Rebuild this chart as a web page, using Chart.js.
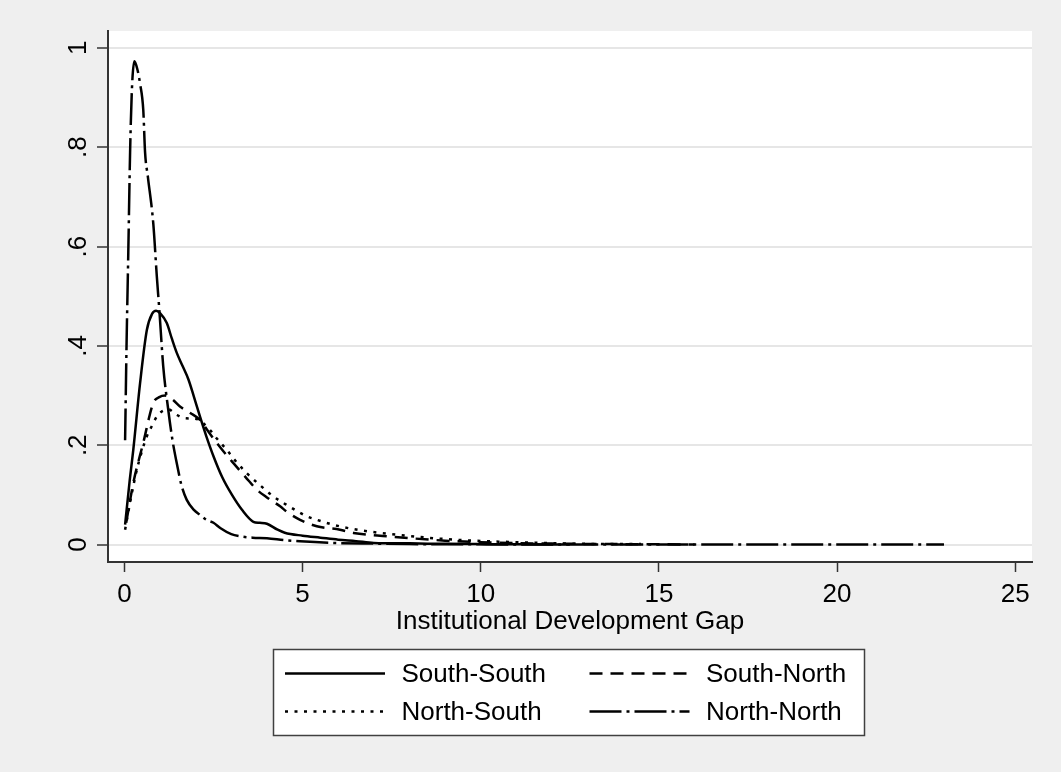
<!DOCTYPE html>
<html>
<head>
<meta charset="utf-8">
<title>Institutional Development Gap</title>
<script src="https://cdn.jsdelivr.net/npm/chart.js@4.4.1/dist/chart.umd.min.js"></script>
<style>
  html, body { margin: 0; padding: 0; background: #efefef; }
  #wrap { width: 1061px; height: 772px; }
</style>
</head>
<body>
<div id="wrap"><canvas id="kdens" width="1061" height="772"></canvas></div>
<script>
// kernel density curves
var ssX = [0.02, 0.15, 0.25, 0.44, 0.63, 0.78, 0.89, 1.0, 1.19, 1.33, 1.47, 1.63, 1.8, 1.95, 2.12, 2.3, 2.5, 2.75, 3.02, 3.3, 3.62, 3.8, 4.0, 4.3, 4.5, 5.0, 5.5, 6.0, 6.5, 7.0, 8.0, 9.0, 10.0, 11.0, 12.5];
var ssY = [0.04, 0.13, 0.191, 0.325, 0.432, 0.465, 0.471, 0.466, 0.446, 0.415, 0.386, 0.36, 0.332, 0.298, 0.258, 0.218, 0.178, 0.135, 0.1, 0.07, 0.046, 0.044, 0.042, 0.03, 0.024, 0.018, 0.014, 0.01, 0.007, 0.0035, 0.0025, 0.0015, 0.001, 0.0006, 0.0003];

var snX = [0.05, 0.25, 0.53, 0.81, 0.98, 1.14, 1.35, 1.56, 1.85, 2.12, 2.35, 2.59, 2.8, 3.06, 3.4, 3.71, 4.0, 4.37, 4.56, 4.93, 5.4, 6.05, 6.43, 7.36, 8.0, 9.0, 10.0, 11.0, 12.0, 14.0, 16.0];
var snY = [0.044, 0.124, 0.205, 0.285, 0.297, 0.3, 0.292, 0.278, 0.265, 0.251, 0.228, 0.205, 0.186, 0.164, 0.136, 0.111, 0.095, 0.077, 0.066, 0.05, 0.037, 0.03, 0.0235, 0.0168, 0.013, 0.008, 0.005, 0.003, 0.002, 0.001, 0.0003];

var nsX = [0.02, 0.2, 0.35, 0.5, 0.63, 0.78, 0.91, 1.05, 1.24, 1.45, 1.66, 1.85, 2.03, 2.2, 2.4, 2.6, 2.87, 3.1, 3.43, 3.8, 4.18, 4.6, 5.12, 5.4, 5.86, 6.61, 7.64, 8.5, 9.5, 10.5, 11.5, 12.5, 14.5];
var nsY = [0.03, 0.1, 0.151, 0.19, 0.218, 0.24, 0.258, 0.268, 0.272, 0.262, 0.255, 0.254, 0.253, 0.245, 0.231, 0.213, 0.191, 0.17, 0.144, 0.12, 0.097, 0.078, 0.057, 0.05, 0.04, 0.029, 0.02, 0.014, 0.009, 0.006, 0.004, 0.002, 0.001];

var nnX = [0.02, 0.06, 0.11, 0.16, 0.21, 0.28, 0.36, 0.44, 0.53, 0.58, 0.66, 0.81, 0.91, 0.98, 1.09, 1.23, 1.35, 1.47, 1.6, 1.75, 1.95, 2.12, 2.3, 2.5, 2.7, 3.0, 3.25, 3.6, 4.0, 4.5, 4.93, 5.86, 7.0, 8.0, 10.0, 12.0, 15.0, 18.0, 20.0, 23.0];
var nnY = [0.21, 0.4, 0.59, 0.79, 0.915, 0.973, 0.958, 0.928, 0.875, 0.79, 0.74, 0.647, 0.54, 0.473, 0.359, 0.272, 0.21, 0.164, 0.12, 0.09, 0.07, 0.06, 0.05, 0.044, 0.033, 0.021, 0.0167, 0.014, 0.013, 0.009, 0.0067, 0.0034, 0.002, 0.001, 0.0005, 0.0003, 0.0002, 0.0001, 0.0001, 0];

var seriesNames = ["South-South", "South-North", "North-South", "North-North"];
var xTicks = [0, 5, 10, 15, 20, 25];
var yTicks = [0, 0.2, 0.4, 0.6, 0.8, 1];
var yTickLabels = ["0", ".2", ".4", ".6", ".8", "1"];

var FONT = "'Liberation Sans', Arial, sans-serif";

function pts(xs, ys) {
  return xs.map(function (x, i) { return { x: x, y: ys[i] }; });
}

function line(name, xs, ys, dash) {
  return {
    label: name,
    data: pts(xs, ys),
    borderColor: '#000',
    borderWidth: 2.5,
    borderDash: dash,
    pointRadius: 0,
    fill: false,
    cubicInterpolationMode: 'monotone'
  };
}

// white plot region on the grey page
var plotBg = {
  id: 'plotBg',
  beforeDraw: function (chart) {
    var ctx = chart.ctx, a = chart.chartArea;
    ctx.save();
    ctx.fillStyle = '#efefef';
    ctx.fillRect(0, 0, chart.width, chart.height);
    ctx.fillStyle = '#fff';
    ctx.fillRect(a.left, a.top, a.right - a.left, a.bottom - a.top);
    ctx.restore();
  }
};

// boxed 2x2 legend under the axis title
var legendBox = { left: 273.5, top: 649.5, width: 591, height: 86 };
var stataLegend = {
  id: 'stataLegend',
  afterDraw: function (chart) {
    var ctx = chart.ctx;
    ctx.save();
    ctx.fillStyle = '#fff';
    ctx.fillRect(legendBox.left, legendBox.top, legendBox.width, legendBox.height);
    ctx.strokeStyle = '#404040';
    ctx.lineWidth = 1.5;
    ctx.strokeRect(legendBox.left, legendBox.top, legendBox.width, legendBox.height);

    chart.data.datasets.forEach(function (ds, i) {
      var col = i % 2, row = Math.floor(i / 2);
      var x0 = legendBox.left + 11.5 + col * 304.5;
      var y = legendBox.top + 24 + row * 38;
      ctx.setLineDash(ds.borderDash || []);
      ctx.lineWidth = ds.borderWidth;
      ctx.strokeStyle = ds.borderColor;
      ctx.beginPath();
      ctx.moveTo(x0, y);
      ctx.lineTo(x0 + 100, y);
      ctx.stroke();
      ctx.setLineDash([]);
      ctx.fillStyle = '#000';
      ctx.font = '26px ' + FONT;
      ctx.textBaseline = 'middle';
      ctx.fillText(ds.label, x0 + 116.5, y + 1);
    });
    ctx.restore();
  }
};

function densityChart() {
  var ctx = document.getElementById('kdens').getContext('2d');
  var tickFont = { family: FONT, size: 26 };

  var options = {
    responsive: false,
    animation: false,
    layout: { padding: { left: 0, right: 29, top: 31, bottom: 135 } },
    plugins: {
      legend: { display: false },
      tooltip: { enabled: false }
    },
    scales: {
      x: {
        type: 'linear',
        min: -0.46,
        max: 25.47,
        afterBuildTicks: function (s) { s.ticks = xTicks.map(function (v) { return { value: v }; }); },
        afterFit: function (s) { s.height = 75; },
        grid: { drawOnChartArea: false, drawTicks: true, tickLength: 10, tickColor: '#333', tickWidth: 1.5 },
        border: { display: true, color: '#333', width: 2 },
        ticks: {
          color: '#000', font: tickFont, padding: 7, maxRotation: 0, autoSkip: false,
          callback: function (v) { return String(v); }
        },
        title: {
          display: true, text: 'Institutional Development Gap', color: '#000',
          font: tickFont, padding: 0
        }
      },
      y: {
        type: 'linear',
        min: -0.035,
        max: 1.034,
        afterBuildTicks: function (s) { s.ticks = yTicks.map(function (v) { return { value: v }; }); },
        afterFit: function (s) { s.width = 108; },
        grid: { color: '#e6e6e6', lineWidth: 2, tickColor: '#333', tickWidth: 1.5, tickLength: 11 },
        border: { display: true, color: '#333', width: 2 },
        ticks: {
          color: '#000', font: tickFont, padding: 7, minRotation: 90, maxRotation: 90,
          crossAlign: 'center', autoSkip: false,
          callback: function (v, i) { return yTickLabels[i]; }
        }
      }
    }
  };

  new Chart(ctx, {
    type: 'line',
    data: {
      datasets: [
        line(seriesNames[0], ssX, ssY, []),
        line(seriesNames[1], snX, snY, [13, 8]),
        line(seriesNames[2], nsX, nsY, [3, 6.5]),
        line(seriesNames[3], nnX, nnY, [32, 5, 3, 5])
      ]
    },
    options: options,
    plugins: [plotBg, stataLegend]
  });
}

densityChart();
</script>
</body>
</html>
